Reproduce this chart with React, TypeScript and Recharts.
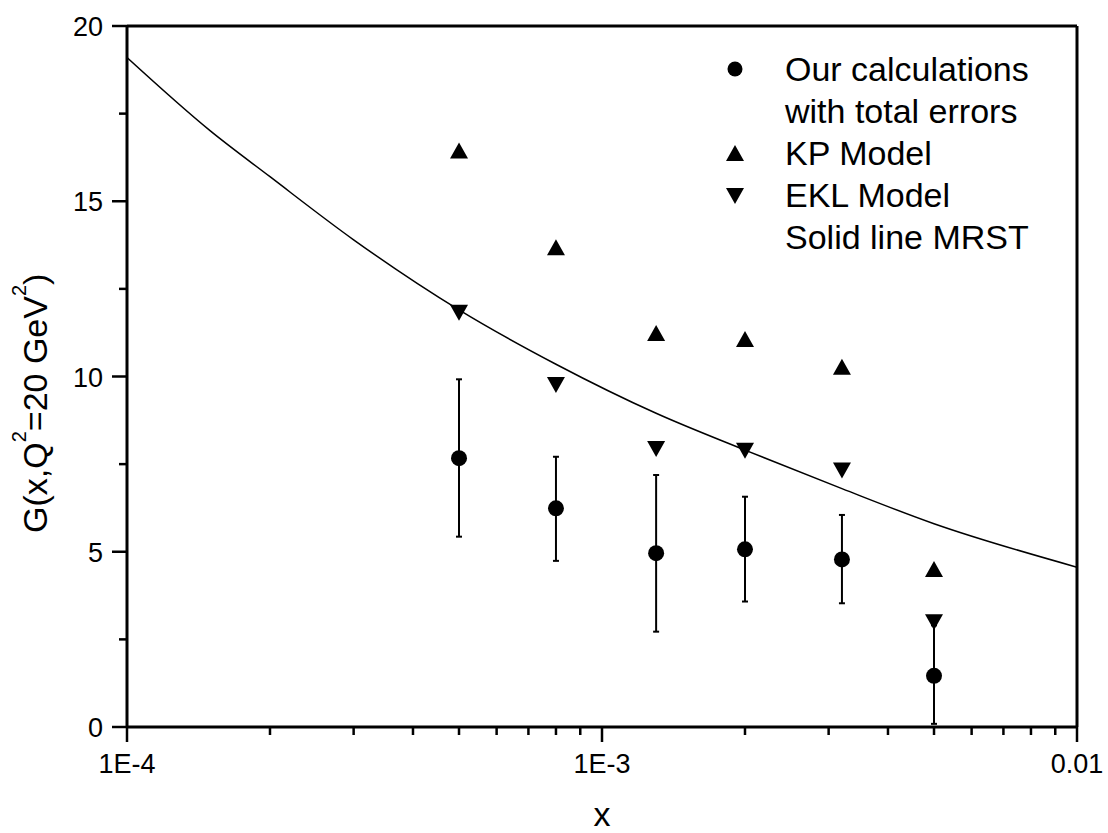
import React from "react";
import { ComposedChart, Line, Scatter, XAxis, YAxis, ErrorBar, ReferenceLine } from "recharts";

// measured points (x in log scale)
const xValues = [5e-4, 8e-4, 1.3e-3, 2e-3, 3.2e-3, 5e-3];
const ourCalc = [7.67, 6.24, 4.96, 5.07, 4.78, 1.46];
const errUpper = [9.92, 7.71, 7.19, 6.57, 6.05, 2.9];
const errLower = [5.43, 4.74, 2.72, 3.58, 3.53, 0.09];
const kpModel = [16.45, 13.69, 11.24, 11.07, 10.28, 4.51];
const eklModel = [11.82, 9.76, 7.93, 7.88, 7.32, 2.99];

// MRST solid line
const mrstX = [1e-4, 1.5e-4, 2e-4, 3e-4, 5e-4, 8e-4, 1.3e-3, 2e-3, 3.2e-3, 5e-3, 1e-2];
const mrstG = [19.1, 17.0, 15.7, 13.9, 11.9, 10.35, 8.95, 7.9, 6.8, 5.8, 4.56];

const xMajor = [1e-4, 1e-3, 1e-2];
const xMajorLabels = ["1E-4", "1E-3", "0.01"];
const xMinor = [2e-4, 3e-4, 4e-4, 5e-4, 6e-4, 7e-4, 8e-4, 9e-4, 2e-3, 3e-3, 4e-3, 5e-3, 6e-3, 7e-3, 8e-3, 9e-3];
const yMajor = [0, 5, 10, 15, 20];
const yMinor = [2.5, 7.5, 12.5, 17.5];

const legendRows = ["Our calculations", "with total errors", "KP Model", "EKL Model", "Solid line MRST"];

const calcData = xValues.map((x, i) => ({
  x,
  y: ourCalc[i],
  err: [ourCalc[i] - errLower[i], errUpper[i] - ourCalc[i]],
}));
const kpData = xValues.map((x, i) => ({ x, y: kpModel[i] }));
const eklData = xValues.map((x, i) => ({ x, y: eklModel[i] }));
const mrstData = mrstX.map((x, i) => ({ x, g: mrstG[i] }));

const FONT = "'Liberation Sans', Arial, sans-serif";

const XTick = (props: any) => {
  const { x, y, payload } = props;
  const i = xMajor.findIndex((v) => Math.abs(v - payload.value) / v < 1e-6);
  const major = i >= 0;
  return (
    <g>
      <line x1={x} x2={x} y1={y} y2={y + (major ? 15 : 8)} stroke="#000" strokeWidth={2.5} />
      {major && (
        <text x={x} y={y + 46} textAnchor="middle" fontSize={27} fontFamily={FONT} fill="#000">
          {xMajorLabels[i]}
        </text>
      )}
    </g>
  );
};

const YTick = (props: any) => {
  const { x, y, payload } = props;
  const major = yMajor.includes(payload.value);
  return (
    <g>
      <line x1={x - (major ? 15 : 8)} x2={x} y1={y} y2={y} stroke="#000" strokeWidth={2.5} />
      {major && (
        <text x={x - 24} y={y + 10} textAnchor="end" fontSize={27} fontFamily={FONT} fill="#000">
          {payload.value}
        </text>
      )}
    </g>
  );
};

const Dot = (props: any) => <circle cx={props.cx} cy={props.cy} r={8} fill="#000" />;

const UpTri = (props: any) => {
  const { cx, cy } = props;
  return <polygon points={`${cx},${cy - 8} ${cx - 9},${cy + 8} ${cx + 9},${cy + 8}`} fill="#000" />;
};

const DownTri = (props: any) => {
  const { cx, cy } = props;
  return <polygon points={`${cx},${cy + 8} ${cx - 9},${cy - 8} ${cx + 9},${cy - 8}`} fill="#000" />;
};

const YTitle = () => (
  <text transform="translate(47,533) rotate(-90)" fontSize={34} fontFamily={FONT} fill="#000">
    <tspan>G(x,Q</tspan>
    <tspan fontSize={20} dy={-21}>2</tspan>
    <tspan dy={21}>=20 GeV</tspan>
    <tspan fontSize={20} dy={-21}>2</tspan>
    <tspan dy={21}>)</tspan>
  </text>
);

const XTitle = (props: any) => {
  const vb = props.viewBox || { x: 127, width: 950 };
  return (
    <text x={vb.x + vb.width / 2} y={826} textAnchor="middle" fontSize={34} fontFamily={FONT} fill="#000">
      x
    </text>
  );
};

const LegendBox = () => (
  <svg
    width={1108}
    height={833}
    style={{ position: "absolute", left: 0, top: 0, pointerEvents: "none" }}
  >
    <circle cx={735} cy={69} r={7.5} fill="#000" />
    <UpTri cx={735} cy={153} />
    <DownTri cx={735} cy={196} />
    {legendRows.map((t, i) => (
      <text key={t} x={785} y={81 + i * 42} fontSize={34} fontFamily={FONT} fill="#000">
        {t}
      </text>
    ))}
  </svg>
);

export default function App() {
  return (
    <div style={{ position: "absolute", left: 0, top: 0, width: 1108, height: 833, background: "#fff" }}>
      <ComposedChart width={1108} height={833} margin={{ top: 26, right: 31, bottom: 46, left: 27 }}>
        <XAxis
          dataKey="x"
          type="number"
          scale="log"
          domain={[1e-4, 1e-2]}
          ticks={[...xMajor, ...xMinor].sort((a, b) => a - b)}
          interval={0}
          height={60}
          tickSize={0}
          tickMargin={0}
          tickLine={false}
          tick={<XTick />}
          axisLine={{ stroke: "#000", strokeWidth: 3 }}
          allowDataOverflow
          label={{ content: <XTitle /> }}
        />
        <YAxis
          type="number"
          domain={[0, 20]}
          ticks={[...yMajor, ...yMinor].sort((a, b) => a - b)}
          interval={0}
          width={100}
          tickSize={0}
          tickMargin={0}
          tickLine={false}
          tick={<YTick />}
          axisLine={{ stroke: "#000", strokeWidth: 3 }}
          allowDataOverflow
          label={{ content: <YTitle /> }}
        />
        <ReferenceLine y={20} stroke="#000" strokeWidth={3} />
        <ReferenceLine x={0.01} stroke="#000" strokeWidth={3} />
        <Line
          data={mrstData}
          dataKey="g"
          type="monotone"
          stroke="#000"
          strokeWidth={1.5}
          dot={false}
          isAnimationActive={false}
        />
        <Scatter data={calcData} dataKey="y" shape={<Dot />} isAnimationActive={false}>
          <ErrorBar dataKey="err" direction="y" width={3} stroke="#000" strokeWidth={2} isAnimationActive={false} />
        </Scatter>
        <Scatter data={kpData} dataKey="y" shape={<UpTri />} isAnimationActive={false} />
        <Scatter data={eklData} dataKey="y" shape={<DownTri />} isAnimationActive={false} />
      </ComposedChart>
      <LegendBox />
    </div>
  );
}
